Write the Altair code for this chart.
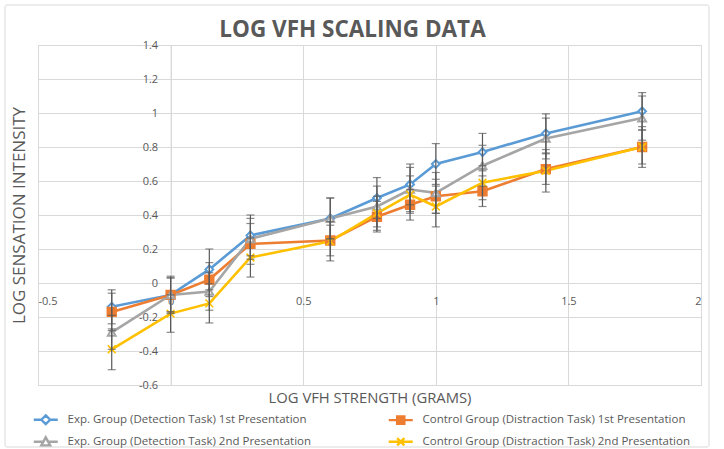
import altair as alt
import pandas as pd

# log VFH strength (grams)
X = [-0.222, 0.0, 0.146, 0.301, 0.602, 0.778, 0.903, 1.0, 1.176, 1.415, 1.778]

SERIES = [
    "Exp. Group (Detection Task) 1st Presentation",
    "Control Group (Distraction Task) 1st Presentation",
    "Exp. Group (Detection Task) 2nd Presentation",
    "Control Group (Distraction Task) 2nd Presentation",
]

EXP1 = [-0.14, -0.07, 0.08, 0.28, 0.38, 0.50, 0.58, 0.70, 0.77, 0.88, 1.01]
CTL1 = [-0.17, -0.07, 0.02, 0.23, 0.25, 0.39, 0.46, 0.51, 0.54, 0.67, 0.80]
EXP2 = [-0.29, -0.07, -0.05, 0.26, 0.38, 0.45, 0.55, 0.53, 0.69, 0.85, 0.97]
CTL2 = [-0.39, -0.18, -0.12, 0.15, 0.245, 0.41, 0.52, 0.45, 0.59, 0.66, 0.80]

ERR_EXP1 = [0.10, 0.11, 0.12, 0.12, 0.12, 0.12, 0.12, 0.12, 0.11, 0.115, 0.11]
ERR_CTL1 = [0.11, 0.10, 0.10, 0.12, 0.09, 0.09, 0.09, 0.10, 0.09, 0.09, 0.10]
ERR_EXP2 = [0.10, 0.10, 0.11, 0.12, 0.12, 0.12, 0.13, 0.12, 0.12, 0.12, 0.13]
ERR_CTL2 = [0.12, 0.11, 0.115, 0.115, 0.115, 0.10, 0.11, 0.12, 0.10, 0.125, 0.12]

X_TICKS = [-0.5, 0, 0.5, 1, 1.5, 2]
Y_TICKS = [-0.6, -0.4, -0.2, 0, 0.2, 0.4, 0.6, 0.8, 1, 1.2, 1.4]

COLORS = ["#5B9BD5", "#ED7D31", "#A5A5A5", "#FFC000"]
FILLS = ["#FFFFFF", "#ED7D31", "#FFFFFF", "transparent"]

MARKERS = [
    "diamond",
    "square",
    "triangle-up",
    "M-1,-1L1,1M-1,1L1,-1",
]
LEGEND_PATHS = [
    "M-3,0H-1.1M1.1,0H3M0,-1.1L1.1,0L0,1.1L-1.1,0Z",
    "M-3,0H-0.9M0.9,0H3M-0.9,-0.9H0.9V0.9H-0.9Z",
    "M-3,0H-0.6M0.6,0H3M0,-1.1L1.1,0.9H-1.1Z",
    "M-3,0H3M-0.9,-0.9L0.9,0.9M-0.9,0.9L0.9,-0.9",
]

rows = []
for s, ys, es in zip(SERIES, [EXP1, CTL1, EXP2, CTL2], [ERR_EXP1, ERR_CTL1, ERR_EXP2, ERR_CTL2]):
    for x, y, e in zip(X, ys, es):
        rows.append({"series": s, "x": x, "y": y, "err": e})
df = pd.DataFrame(rows)

W, H = 663, 340
XMIN, XMAX = -0.5, 2.0
YMIN, YMAX = -0.6, 1.4
x_off = -W * (0 - XMIN) / (XMAX - XMIN)
y_off = -H * (0 - YMIN) / (YMAX - YMIN)

FONT = "Open Sans"
TXT = "#595959"
GRID = "#D9D9D9"

xscale = alt.Scale(domain=[XMIN, XMAX], nice=False, zero=False)
yscale = alt.Scale(domain=[YMIN, YMAX], nice=False, zero=False)

x_axis = alt.Axis(
    values=X_TICKS, labelExpr="'' + datum.value", offset=y_off, labelOverlap=False,
    title="LOG VFH STRENGTH (GRAMS)", titleY=115, titleBaseline="middle",
    titleFont=FONT, titleFontSize=14.8, titleFontWeight="normal", titleColor=TXT,
    labelFont=FONT, labelFontSize=11, labelColor=TXT, labelPadding=12,
    ticks=False, domainColor=GRID, gridColor=GRID, grid=True,
)
y_axis = alt.Axis(
    values=Y_TICKS, labelExpr="'' + datum.value", offset=x_off, labelOverlap=False,
    title="LOG SENSATION INTENSITY", titleX=-19 + x_off, titleY=H / 2,
    titleAngle=270, titleBaseline="middle", titleAlign="center",
    titleFont=FONT, titleFontSize=17, titleFontWeight="normal", titleColor=TXT,
    labelFont=FONT, labelFontSize=11, labelColor=TXT, labelPadding=13,
    ticks=False, domainColor=GRID, gridColor=GRID, grid=True,
)


def xe(field="x"):
    return alt.X(f"{field}:Q", scale=xscale, axis=x_axis)


def ye(field="y"):
    return alt.Y(f"{field}:Q", scale=yscale, axis=y_axis)


base = alt.Chart(df)

frame = alt.Chart(pd.DataFrame({"k": [0]})).mark_rect(
    fill="transparent", stroke=GRID, strokeWidth=1, cornerRadius=2
).encode(x=alt.value(-33), x2=alt.value(671), y=alt.value(-40), y2=alt.value(402))

lines = base.mark_line(strokeWidth=2.6).encode(
    x=xe(), y=ye(),
    color=alt.Color("series:N", scale=alt.Scale(domain=SERIES, range=COLORS), legend=None),
)

point_layers = []
for s, c, f, m in zip(SERIES, COLORS, FILLS, MARKERS):
    size = 60 if m != "square" else 70
    sw = 2 if m != MARKERS[3] else 1.6
    point_layers.append(
        base.transform_filter(alt.datum.series == s)
        .mark_point(shape=m, fill=f, stroke=c, strokeWidth=sw, size=size, opacity=1, filled=False)
        .encode(x=xe(), y=ye())
    )

ERR_COLOR = "#595959"
eb = base.transform_calculate(lo="datum.y - datum.err", hi="datum.y + datum.err")
rules = eb.mark_rule(color=ERR_COLOR, strokeWidth=1.2).encode(x=xe(), y=ye("lo"), y2="hi:Q")
caps_lo = eb.mark_tick(color=ERR_COLOR, orient="horizontal", size=8, thickness=1.2).encode(x=xe(), y=ye("lo"))
caps_hi = eb.mark_tick(color=ERR_COLOR, orient="horizontal", size=8, thickness=1.2).encode(x=xe(), y=ye("hi"))

leg = alt.Legend(
    title=None, orient="none", legendX=2, legendY=369, columns=2, direction="horizontal",
    columnPadding=71, rowPadding=3, symbolSize=64, symbolStrokeWidth=2.4,
    labelFont=FONT, labelFontSize=11.5, labelColor=TXT, labelOffset=16, labelLimit=400,
    symbolOpacity=1,
)
legend_layer = base.mark_point(filled=False, opacity=0).encode(
    x=xe(), y=ye(),
    shape=alt.Shape("series:N", scale=alt.Scale(domain=SERIES, range=LEGEND_PATHS), legend=leg),
    stroke=alt.Stroke("series:N", scale=alt.Scale(domain=SERIES, range=COLORS), legend=leg),
    fill=alt.Fill("series:N", scale=alt.Scale(domain=SERIES, range=FILLS), legend=leg),
)

chart = alt.layer(frame, legend_layer, lines, *point_layers, rules, caps_lo, caps_hi).properties(
    width=W, height=H,
    padding={"left": 38, "top": 45, "right": 23, "bottom": 64},
    autosize="none",
    title=alt.TitleParams(
        "LOG VFH SCALING DATA", font=FONT, fontSize=22.5, fontWeight="bold", color=TXT,
        frame="group", anchor="middle", dx=-17, offset=-55, baseline="alphabetic",
    ),
).configure_view(stroke=None).configure_axis(labelOverlap=False).configure(background="white")

chart.save("out.html", embed_options={"renderer": "svg", "actions": False})
